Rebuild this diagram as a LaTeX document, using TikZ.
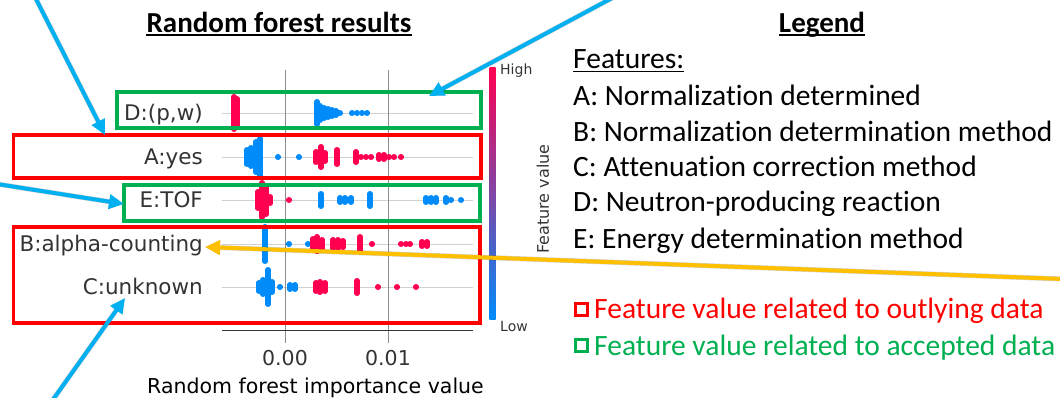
\documentclass[tikz,border=0pt]{standalone}
\usepackage{fontspec}
\setmainfont{Carlito}[Ligatures=NoCommon]
\newfontfamily\plotfont{DejaVu Sans}
\usetikzlibrary{arrows.meta}

\definecolor{shapred}{HTML}{FF0051}
\definecolor{shapblue}{HTML}{008BFB}
\definecolor{shappurple}{HTML}{9A1FB5}
\definecolor{outred}{HTML}{FF0000}
\definecolor{accgreen}{HTML}{00B050}
\definecolor{callblue}{HTML}{00B0F0}
\definecolor{callgold}{HTML}{FFC000}
\definecolor{labelgray}{HTML}{333333}

\tikzset{
  rowline/.style={draw=black!18, line width=0.8pt},
  gridline/.style={draw=black!45, line width=1pt},
  swarmdot/.style={line width=5.4pt, line cap=round},
  outbox/.style={draw=outred, line width=3.5pt},
  accbox/.style={draw=accgreen, line width=3.5pt},
  rowlabel/.style={anchor=base east, inner sep=0pt, text=labelgray, font=\plotfont\fontsize{21.5}{21.5}\selectfont},
  ticklabel/.style={anchor=base, inner sep=0pt, text=labelgray, font=\plotfont\fontsize{20.5}{20.5}\selectfont},
  heading/.style={anchor=base, inner sep=0pt, font=\bfseries\fontsize{29}{29}\selectfont},
  legitem/.style={anchor=base west, inner sep=0pt, font=\fontsize{29.5}{29.5}\selectfont},
  keybox/.style={line width=3pt, minimum size=12pt, inner sep=0pt},
  callout/.style={draw=callblue, line width=4pt, -{Triangle[length=15pt,width=14pt]}},
  golden/.style={draw=callgold, line width=4pt, -{Triangle[length=15pt,width=14pt]}},
  dropshade/.style={draw=black, opacity=.18, line width=5pt, shift={(2,3)}, -{Triangle[length=15pt,width=14pt]}}
}

% one row of the beeswarm: y, colour, list of x/half-height
\newcommand{\swarm}[3]{%
  \foreach \x/\h in {#3} \draw[swarmdot, draw=#2] (\x,#1-\h-0.3) -- (\x,#1+\h+0.3);}

\begin{document}
\begin{tikzpicture}[x=1pt, y=-1pt]
\useasboundingbox (0,0) rectangle (1060,398);

% headings
\node[heading] (plottitle) at (279,33) {Random forest results};
\draw[line width=1.6pt] ([yshift=-2pt]plottitle.base west) -- ([yshift=-2pt]plottitle.base east);
\node[heading] (legtitle) at (822,33) {Legend};
\draw[line width=1.6pt] ([yshift=-2pt]legtitle.base west) -- ([yshift=-2pt]legtitle.base east);

% grid and axis
\foreach \y in {113,157,200,244,287} \draw[rowline] (222,\y) -- (473,\y);
\draw[gridline] (285,70) -- (285,343);
\draw[gridline] (388,70) -- (388,343);
\draw[draw=labelgray, line width=1pt] (222,330) -- (473,330);
\node[ticklabel] (tick0) at (285,365) {0.00};
\node[ticklabel] (tick1) at (388,365) {0.01};
\node[ticklabel, anchor=base west, text=black] (xlabel) at (147,393) {Random forest importance value};

% row labels
\node[rowlabel] (rowD) at (203,120.5) {D:(p,w)};
\node[rowlabel] (rowA) at (203,164.5) {A:yes};
\node[rowlabel] (rowE) at (203,207.5) {E:TOF};
\node[rowlabel] (rowB) at (203,251.5) {B:alpha-counting};
\node[rowlabel] (rowC) at (203,294.5) {C:unknown};

% beeswarm points
\swarm{113}{shapred}{234/16, 237/14}
\swarm{113}{shapblue}{317/11, 320/7, 324/5, 328/4, 332/3, 336/2, 340/0, 352/0, 357/0, 362/0, 367/0}
\swarm{157}{shapblue}{247/7, 251/9, 256/15, 260/18, 278/0, 299/0}
\swarm{157}{shapred}{316/5, 321/10, 325/4, 337/7, 356/5, 361/0, 366/0, 371/0, 379/2, 384/2, 389/0, 394/0, 401/0}
\swarm{200}{shapred}{258/8, 262/17, 266/14, 270/3, 289/0}
\swarm{200}{shapblue}{321/6, 340/2, 345/2, 351/2, 370/6, 426/2, 431/2, 436/2, 446/2, 451/0, 461/0}
\swarm{244}{shapblue}{265/17, 289/0, 308/0}
\swarm{244}{shapred}{313/5, 317/7, 322/4, 333/4, 338/4, 343/3, 360/7, 372/0, 401/0, 406/0, 410/0, 422/2, 427/2}
\swarm{287}{shapblue}{259/4, 263/7, 268/17, 272/5, 280/0, 290/2, 295/2}
\swarm{287}{shapred}{316/4, 320/5, 325/4, 357/6, 378/0, 397/0, 416/0}

% colour bar
\shade[top color=shapred, middle color=shappurple, bottom color=shapblue] (489.5,68) rectangle (495.5,319);
\node[ticklabel, anchor=west, font=\plotfont\fontsize{14}{14}\selectfont] (high) at (500,71) {High};
\node[ticklabel, anchor=west, font=\plotfont\fontsize{14}{14}\selectfont] (low) at (500,326) {Low};
\node[ticklabel, anchor=center, rotate=90, font=\plotfont\fontsize{16}{16}\selectfont] (fvalue) at (543,199) {Feature value};

% outlying / accepted groups
\draw[accbox] (117,92) rectangle (481,128);
\draw[outbox] (13.5,135) rectangle (481,178);
\draw[accbox] (124,185) rectangle (480,221);
\draw[outbox] (13.5,227) rectangle (480,323);

% legend
\node[legitem] (features) at (573,69) {Features:};
\draw[line width=1.4pt] ([yshift=-2.5pt]features.base west) -- ([yshift=-2.5pt]features.base east);
\node[legitem] (legA) at (573,106) {A: Normalization determined};
\node[legitem] (legB) at (573,142) {B: Normalization determination method};
\node[legitem] (legC) at (573,177) {C: Attenuation correction method};
\node[legitem] (legD) at (573,212) {D: Neutron-producing reaction};
\node[legitem] (legE) at (573,248) {E: Energy determination method};
\node[keybox, draw=outred] (keyout) at (581,309.5) {};
\node[legitem, text=outred] (legout) at (594,318) {Feature value related to outlying data};
\node[keybox, draw=accgreen] (keyacc) at (581,345.5) {};
\node[legitem, text=accgreen] (legacc) at (594,355) {Feature value related to accepted data};

% callout arrows
\coordinate (fromA) at (35,-3);
\coordinate (tipA) at (105,135);
\coordinate (fromD) at (614,-3);
\coordinate (tipD) at (429,96);
\coordinate (fromE) at (-3,184);
\coordinate (tipE) at (124,204);
\coordinate (fromC) at (52,401);
\coordinate (tipC) at (125,298);
\coordinate (fromB) at (1063,279);
\coordinate (tipB) at (205,247);
\foreach \s/\t in {fromA/tipA, fromD/tipD, fromE/tipE, fromC/tipC, fromB/tipB}
  \draw[dropshade] (\s) -- (\t);
\draw[callout] (fromA) -- (tipA);
\draw[callout] (fromD) -- (tipD);
\draw[callout] (fromE) -- (tipE);
\draw[callout] (fromC) -- (tipC);
\draw[golden] (fromB) -- (tipB);
\end{tikzpicture}
\end{document}
